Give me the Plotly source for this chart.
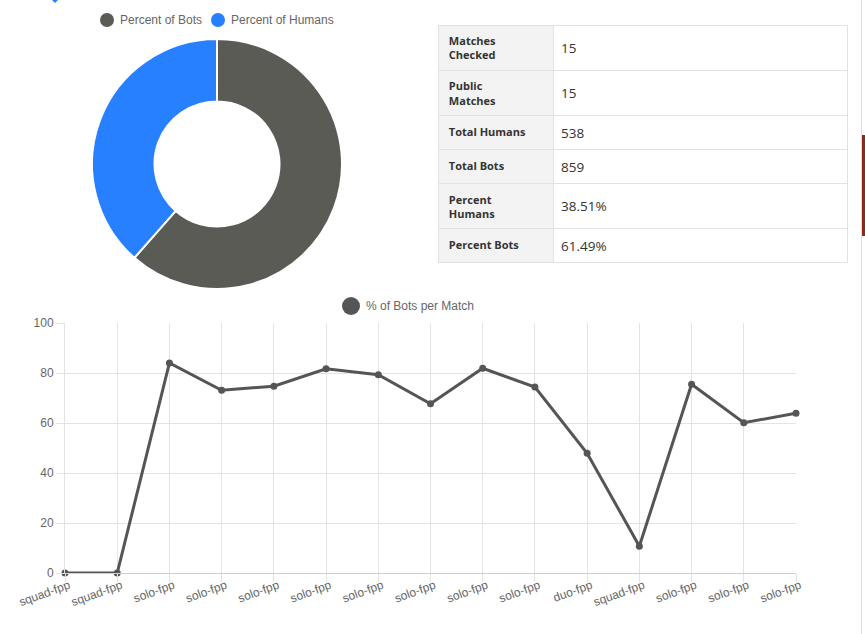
import plotly.graph_objects as go

# ---- data ----
pie_labels = ["Percent of Bots", "Percent of Humans"]
pie_values = [859, 538]
pie_colors = ["#5b5b56", "#2780ff"]

table_labels = ["Matches<br>Checked", "Public<br>Matches", "Total Humans",
                "Total Bots", "Percent<br>Humans", "Percent Bots"]
table_values = ["15", "15", "538", "859", "38.51%", "61.49%"]

match_modes = ["squad-fpp", "squad-fpp", "solo-fpp", "solo-fpp", "solo-fpp",
               "solo-fpp", "solo-fpp", "solo-fpp", "solo-fpp", "solo-fpp",
               "duo-fpp", "squad-fpp", "solo-fpp", "solo-fpp", "solo-fpp"]
bot_pct = [0, 0, 84.0, 73.1, 74.7, 81.7, 79.3, 67.7, 81.9, 74.4,
           47.9, 10.7, 75.5, 60.1, 63.9]
line_name = "% of Bots per Match"

W, H = 865, 634
def px(x):
    return x / W
def py(y):
    return 1 - y / H

fig = go.Figure()

fig.add_trace(go.Pie(
    labels=pie_labels, values=pie_values, hole=0.5, sort=False,
    direction="clockwise", rotation=0,
    marker=dict(colors=pie_colors, line=dict(color="white", width=2)),
    textinfo="none", showlegend=False,
    domain=dict(x=[px(92), px(342)], y=[py(289), py(39)]),
))

def fmt_label(t):
    return "<br>".join("\u00a0<b>" + part + "</b>" for part in t.split("<br>"))

def fmt_value(v, label):
    # small blank lines push the value down so it sits mid-row
    pad = "<br>" * (3 if "<br>" in label else 1)
    return pad + "<span style='font-size:13.5px'>" + v + "</span>"

lab_cells = [fmt_label(t) for t in table_labels]
val_cells = [fmt_value(v, t) for v, t in zip(table_values, table_labels)]
tab_font = dict(family=["Open Sans", "Open Sans"], size=[11, 5],
                color=["#333333", "#333333"])
fig.add_trace(go.Table(
    domain=dict(x=[px(438), px(847)], y=[py(264), py(25)]),
    columnwidth=[115, 294],
    header=dict(
        values=[lab_cells[0], val_cells[0]],
        fill=dict(color=["#f3f3f3", "white"]),
        line=dict(color="#e2e2e2", width=1),
        align="left", height=34, font=tab_font,
    ),
    cells=dict(
        values=[lab_cells[1:], val_cells[1:]],
        fill=dict(color=[["#f3f3f3"] * 5, ["white"] * 5]),
        line=dict(color="#e2e2e2", width=1),
        align="left", height=34, font=tab_font,
    ),
))

x_idx = list(range(len(bot_pct)))
fig.add_trace(go.Scatter(
    x=x_idx, y=bot_pct, mode="lines+markers", name=line_name,
    line=dict(color="#555555", width=3),
    marker=dict(color="#555555", size=7),
    cliponaxis=False, showlegend=False,
))

grid = "#e3e3e3"
fig.update_layout(
    width=W, height=H, margin=dict(l=0, r=0, t=0, b=0),
    paper_bgcolor="white", plot_bgcolor="white",
    font=dict(family="Liberation Sans, Arial", color="#666666", size=12),
    xaxis=dict(domain=[px(65), px(796)], range=[0, len(bot_pct) - 1],
               tickmode="array", tickvals=x_idx, ticktext=match_modes,
               tickangle=-20, showgrid=True, gridcolor=grid, zeroline=False,
               ticks="outside", ticklen=8, tickcolor=grid, automargin=False,
               ticklabelstandoff=-8, ticklabelshift=4,
               showline=True, linecolor="#cfcfcf",
               tickfont=dict(size=12, color="#666666")),
    yaxis=dict(domain=[py(573), py(323)], range=[0, 100], dtick=20,
               showgrid=True, gridcolor=grid, zeroline=False,
               ticks="outside", ticklen=8, tickcolor=grid, automargin=False,
               showline=True, linecolor=grid,
               tickfont=dict(size=12, color="#666666")),
)

# custom legends (Chart.js style circles)
shapes = []
annos = []
def legend_item(cx, cy, r, color, text):
    shapes.append(dict(type="circle", xref="paper", yref="paper",
                       x0=px(cx - r), x1=px(cx + r), y0=py(cy + r), y1=py(cy - r),
                       fillcolor=color, line=dict(width=0)))
    annos.append(dict(xref="paper", yref="paper", x=px(cx + r + 4), y=py(cy),
                      xanchor="left", yanchor="middle", text=text, showarrow=False,
                      font=dict(size=12, color="#666666")))

legend_item(107, 20, 7, pie_colors[0], pie_labels[0])
legend_item(218, 20, 7, pie_colors[1], pie_labels[1])
legend_item(351, 306, 9, "#555555", line_name)

# page artifacts
shapes.append(dict(type="path", xref="paper", yref="paper",
                   path=f"M {px(50)} {py(-2)} L {px(55)} {py(3)} L {px(60)} {py(-2)} Z",
                   fillcolor="#2780ff", line=dict(width=0)))
shapes.append(dict(type="line", xref="paper", yref="paper",
                   x0=px(861.5), x1=px(861.5), y0=0, y1=1,
                   line=dict(color="#dddddd", width=1)))
shapes.append(dict(type="rect", xref="paper", yref="paper",
                   x0=px(862), x1=px(865), y0=py(236), y1=py(135),
                   fillcolor="#8a2a1a", line=dict(width=0)))

fig.update_layout(shapes=shapes, annotations=annos)
fig.write_html("out.html")
